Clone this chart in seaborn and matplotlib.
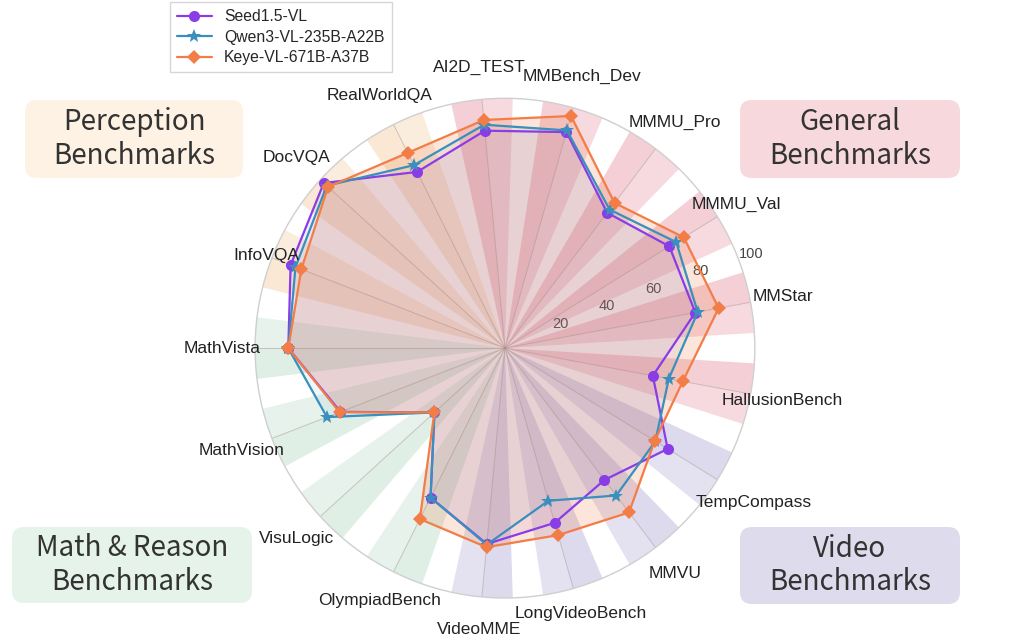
import numpy as np
import pandas as pd
import matplotlib.pyplot as plt
import seaborn as sns
from matplotlib.patches import FancyBboxPatch
from matplotlib.transforms import IdentityTransform

# Benchmarks, clockwise starting from the left (MathVista)
categories = ['MathVista', 'InfoVQA', 'DocVQA', 'RealWorldQA', 'AI2D_TEST', 'MMBench_Dev',
              'MMMU_Pro', 'MMMU_Val', 'MMStar', 'HallusionBench', 'TempCompass', 'MMVU',
              'LongVideoBench', 'VideoMME', 'OlympiadBench', 'VisuLogic', 'MathVision']
groups = ['math', 'perception', 'perception', 'perception', 'general', 'general',
          'general', 'general', 'general', 'general', 'video', 'video',
          'video', 'video', 'math', 'math', 'math']

seed_vl = [86.7, 92.0, 98.1, 78.8, 87.4, 89.9, 67.9, 77.4, 77.5, 60.2, 76.6, 66.1,
           72.7, 78.7, 66.8, 38.2, 70.6]
qwen3_vl = [86.7, 89.9, 96.5, 81.8, 89.8, 90.6, 69.5, 80.6, 78.5, 66.7, 70.8, 73.9,
            63.5, 79.0, 66.8, 38.2, 76.4]
keye_vl = [86.7, 87.4, 95.8, 87.3, 91.7, 96.6, 72.8, 84.2, 87.0, 72.4, 70.5, 82.4,
           77.8, 80.0, 76.4, 38.2, 71.0]

models = ['Seed1.5-VL', 'Qwen3-VL-235B-A22B', 'Keye-VL-671B-A37B']
model_colors = ['#8a3de6', '#3a8fbd', '#f37d47']
model_markers = ['o', '*', 'D']
model_msize = [8, 10, 7]
fill_alpha = [0.08, 0.08, 0.2]

group_colors = {'perception': '#f8dfc2', 'general': '#f0bcc5',
                'video': '#cfcbe6', 'math': '#d2e9db'}
group_titles = ['Perception\nBenchmarks', 'General\nBenchmarks',
                'Math & Reason\nBenchmarks', 'Video\nBenchmarks']
box_colors = ['#fdf2e4', '#f6d8dd', '#e6f3ea', '#dedbed']

sns.set_theme(style='white')
plt.rcParams['font.family'] = ['Liberation Sans', 'DejaVu Sans']

n = len(categories)
angles = np.linspace(0, 2 * np.pi, n, endpoint=False)
closed = np.append(angles, 2 * np.pi)

fig = plt.figure(figsize=(10.16, 6.44), dpi=100)
ax = fig.add_axes([0.251, 0.0714, 0.492, 0.776], projection='polar')
ax.set_theta_zero_location('W')
ax.set_theta_direction(-1)

# background wedges per benchmark, two shades either side of the spoke
step = 2 * np.pi / n
half = step * 0.335
wedge_colors = [group_colors[g] for g in groups]
ax.bar(angles - half / 2, [100] * n, width=half, bottom=0,
       color=wedge_colors, alpha=0.7, linewidth=0, zorder=0)
ax.bar(angles + half / 2, [100] * n, width=half, bottom=0,
       color=wedge_colors, alpha=0.55, linewidth=0, zorder=0)

# model series
df = pd.DataFrame({'Seed1.5-VL': seed_vl, 'Qwen3-VL-235B-A22B': qwen3_vl,
                   'Keye-VL-671B-A37B': keye_vl})
for name, c, m, ms, fa in zip(models, model_colors, model_markers, model_msize, fill_alpha):
    vals = np.append(df[name].values, df[name].values[0])
    ax.fill(closed, vals, color=c, alpha=fa, zorder=1)
    sns.lineplot(x=closed, y=vals, ax=ax, sort=False, color=c, marker=m,
                 markersize=ms, markeredgewidth=0, linewidth=1.6, label=name, zorder=3)

ax.set_ylim(0, 100)
ax.set_yticks([20, 40, 60, 80, 100])
ax.set_yticklabels(['20', '40', '60', '80', '100'], fontsize=10.5, color='#444444')
ax.set_rlabel_position(159.5)
ax.set_xticks(angles)
ax.set_xticklabels([])
ax.grid(axis='x', color='#a89f98', linewidth=0.7, alpha=0.55)
ax.grid(axis='y', visible=False)
ax.spines['polar'].set_color('#cfcfcf')
ax.spines['polar'].set_linewidth(1.0)
ax.set_xlabel('')
ax.set_ylabel('')

label_r = {'InfoVQA': 102.5, 'TempCompass': 117, 'LongVideoBench': 110.5, 'MMMU_Val': 109}
for a, cat in zip(angles, categories):
    ax.text(a, label_r.get(cat, 113), cat, ha='center', va='center',
            fontsize=12.5, color='#222222')

# legend in the top left
handles, labels = ax.get_legend_handles_labels()
ax.get_legend().remove()
fig.legend(handles, labels, loc='upper left', bbox_to_anchor=(170 / 1016, 1 - 2 / 644),
           fontsize=11.3, frameon=True, edgecolor='#cccccc', fancybox=False,
           handlelength=2.2, borderpad=0.45, labelspacing=0.35, borderaxespad=0)

# group title boxes (pixel coordinates, origin at bottom left)
box_pos = [(25, 466, 218, 78), (740, 466, 220, 78), (12, 41, 240, 76), (740, 40, 220, 77)]
for (x, y, w, h), title, bc in zip(box_pos, group_titles, box_colors):
    fig.patches.append(FancyBboxPatch((x, y), w, h, boxstyle='round,pad=0,rounding_size=12',
                                      transform=IdentityTransform(), fc=bc, ec='none',
                                      figure=fig, zorder=0))
    fig.text((x + w / 2) / 1016, (y + h / 2) / 644, title, ha='center', va='center',
             fontsize=20, color='#333333', linespacing=1.15, fontweight='medium',
             family=['Noto Sans CJK SC', 'DejaVu Sans'])

fig.savefig('out.png', dpi=100)
